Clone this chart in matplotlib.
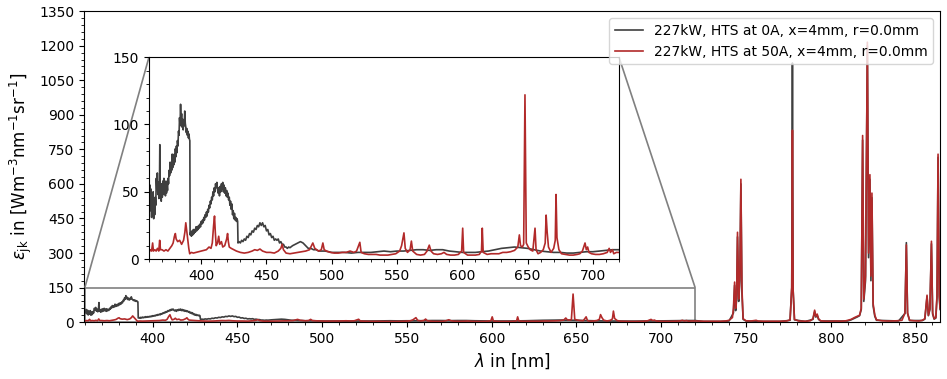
import matplotlib
matplotlib.use('Agg')
import matplotlib.pyplot as plt
from matplotlib.ticker import MultipleLocator
from mpl_toolkits.axes_grid1.inset_locator import mark_inset

# spectrum: 227kW, HTS at 0A
gray_wl = [360.0, 360.4, 360.8, 361.2, 361.6, 362.0, 362.4, 362.8, 363.2, 363.6,
           364.0, 364.4, 364.8, 365.2, 365.6, 366.0, 366.4, 366.8, 367.2, 367.6,
           368.0, 368.3, 368.6, 369.0, 369.4, 369.8, 370.2, 370.6, 371.0, 371.4,
           371.8, 372.2, 372.6, 373.0, 373.4, 373.8, 374.2, 374.6, 375.0, 375.4,
           375.8, 376.2, 376.6, 377.0, 377.4, 377.8, 378.2, 378.6, 379.0, 379.4,
           379.8, 380.2, 380.6, 381.0, 381.4, 381.8, 382.2, 382.6, 383.0, 383.4,
           383.8, 384.2, 384.6, 385.0, 385.4, 385.8, 386.2, 386.6, 387.0, 387.4,
           387.8, 388.2, 388.6, 389.0, 389.4, 389.8, 390.2, 390.6, 391.0, 391.3,
           391.5, 392.0, 392.5, 393.0, 393.5, 394.0, 394.5, 395.0, 395.5, 396.0,
           396.5, 397.0, 397.5, 398.0, 398.5, 399.0, 399.5, 400.0, 400.5, 401.0,
           401.5, 402.0, 402.5, 403.0, 403.5, 404.0, 404.5, 405.0, 405.5, 406.0,
           406.5, 407.0, 407.5, 408.0, 408.5, 409.0, 409.5, 410.0, 410.5, 411.0,
           411.5, 412.0, 412.5, 413.0, 413.5, 414.0, 414.5, 415.0, 415.5, 416.0,
           416.5, 417.0, 417.5, 418.0, 418.5, 419.0, 419.5, 420.0, 420.5, 421.0,
           421.5, 422.0, 422.5, 423.0, 423.5, 424.0, 424.5, 425.0, 425.5, 426.0,
           426.5, 427.0, 427.5, 427.9, 428.2, 429, 430, 431, 432, 433,
           434, 435, 436, 437, 438, 439, 440, 441, 442, 443,
           444, 445, 446, 447, 448, 449, 450, 451, 452, 453,
           454, 455, 456, 457, 458, 459, 460, 461, 462, 463,
           464, 465, 466, 467, 468, 470, 472, 474, 476, 478,
           480, 482, 484, 486, 488, 490, 495, 500, 505, 510,
           515, 520, 525, 530, 535, 540, 545, 550, 555, 560,
           565, 570, 575, 580, 585, 590, 595, 600, 605, 610,
           615, 620, 625, 630, 635, 640, 645, 650, 655, 660,
           665, 670, 675, 680, 685, 690, 695, 700, 705, 710,
           715, 720, 725, 735, 740, 742.6, 743.3, 743.9, 744.5, 745.0,
           745.7, 746.4, 747.0, 747.6, 748.3, 750, 760, 770, 776, 777.0,
           777.4, 777.8, 778.6, 785, 789.5, 790.5, 791.2, 792, 792.8, 794,
           810, 812, 815.5, 817, 818, 818.8, 819.5, 820.5, 821.6, 822.3,
           823.1, 823.7, 824.3, 825, 826, 827, 840, 843.8, 844.6, 845.3,
           846.5, 854, 855.5, 856.8, 857.6, 858.5, 859.4, 860.1, 861, 862,
           862.7, 863.3, 864, 864.5]
gray_val = [48, 40, 55, 36, 52, 31, 47, 35, 50, 30,
            44, 33, 46, 40, 60, 52, 64, 48, 57, 45,
            50, 85, 47, 52, 43, 56, 46, 58, 48, 60,
            50, 57, 47, 58, 49, 55, 51, 60, 56, 66,
            62, 72, 64, 70, 66, 78, 68, 76, 70, 78,
            72, 82, 76, 84, 79, 88, 84, 95, 92, 105,
            99, 115, 102, 108, 98, 104, 96, 103, 99, 110,
            101, 98, 94, 97, 92, 95, 90, 93, 89, 88,
            18, 20, 17, 21, 18, 22, 19, 22, 20, 24,
            21, 24, 22, 25, 23, 26, 24, 28, 26, 29,
            27, 31, 29, 33, 31, 35, 32, 37, 35, 40,
            38, 43, 41, 46, 44, 50, 47, 53, 50, 56,
            53, 57, 52, 49, 53, 47, 54, 50, 56, 52,
            57, 50, 55, 49, 53, 47, 51, 46, 49, 44,
            46, 40, 43, 37, 41, 33, 36, 30, 34, 29,
            31, 28, 30, 28, 12, 13, 12, 14, 13, 15,
            14, 17, 16, 19, 18, 21, 20, 23, 22, 25,
            24, 27, 25, 27, 24, 25, 21, 22, 18, 19,
            16, 17, 14, 15, 14, 15, 12, 13, 11, 11,
            9, 9, 8, 9, 8.5, 10, 11, 12, 13, 12,
            10, 8, 8, 7, 7, 6, 6, 5, 5, 5,
            4.5, 5, 5, 5, 5.5, 6, 5.5, 6, 6, 6.5,
            7, 7, 6.5, 7, 7, 6, 5.5, 5, 5, 5,
            5.5, 6, 7, 8, 8.5, 9, 8.5, 8, 7, 6,
            5.5, 5, 5, 4.5, 4.5, 5, 5.5, 5.5, 6, 6.5,
            7, 7, 3, 3, 5, 40, 160, 50, 100, 370,
            90, 180, 600, 130, 12, 5, 3, 3, 8, 150,
            1125, 140, 10, 3, 12, 45, 22, 30, 12, 5,
            5, 10, 22, 28, 55, 790, 90, 180, 1200, 280,
            620, 180, 540, 70, 25, 8, 5, 38, 345, 38,
            7, 7, 13, 110, 28, 55, 340, 35, 13, 18,
            110, 715, 110, 55]

# spectrum: 227kW, HTS at 50A
red_wl = [360, 361, 362, 362.8, 363.4, 364.5, 365.5, 366.5, 367.5, 368.2,
          368.8, 370, 371.5, 373, 374.5, 376, 377.5, 378.5, 379.5, 380.2,
          380.8, 382, 383.5, 385, 386.5, 387.5, 388.2, 388.8, 389.8, 390.5,
          391.2, 392.5, 394, 396, 398, 400, 402, 404, 406, 407.5,
          408.5, 409.5, 410.2, 410.8, 411.5, 412.5, 413.4, 414.2, 415.5, 416.5,
          418, 419.5, 420.2, 420.8, 421.5, 423, 425, 427, 430, 433,
          436, 439, 441, 443, 445, 447, 450, 453, 456, 459,
          461, 462, 463, 465, 468, 471, 474, 477, 480, 483,
          485.5, 487, 490, 492, 493.2, 494.2, 496, 499, 502, 505,
          508, 511, 514, 517, 519, 521.5, 522.5, 525, 528, 531,
          534, 537, 540, 543, 546, 549, 552, 553.5, 555.3, 556.3,
          558, 560, 561, 562, 565, 568, 571, 573, 574.7, 576,
          578, 581, 584, 586, 588, 591, 594, 597, 599.5, 600.3,
          601, 604, 607, 610, 613, 614.7, 615.3, 616, 619, 622,
          625, 628, 631, 634, 637, 640, 642.5, 643.7, 644.6, 646,
          647, 648, 649, 650.5, 652, 654, 655.7, 656.5, 658, 660,
          662, 663.5, 664.2, 665, 666, 668, 670, 671.2, 671.8, 672.5,
          674, 676, 679, 682, 685, 688, 690, 692, 693, 694,
          695, 696, 697, 699, 702, 705, 708, 711, 712.5, 713.5,
          715, 716, 718, 720, 725, 730, 735, 738, 740, 742.0,
          742.6, 743.3, 743.9, 744.5, 745.0, 745.7, 746.4, 747.0, 747.6, 748.3,
          750, 753, 756, 757, 760, 765, 770, 774, 776, 777.0,
          777.4, 777.8, 778.6, 781, 785, 788, 789.5, 790.5, 791.2, 792,
          792.8, 794, 797, 800, 803, 806, 809, 812, 814, 815.5,
          817, 818, 818.8, 819.5, 820.5, 821.6, 822.3, 823.1, 823.7, 824.3,
          825, 826, 827, 830, 833, 836, 839, 842, 843.8, 844.6,
          845.3, 846.5, 849, 852, 854, 855.5, 856.8, 857.6, 858.5, 859.4,
          860.1, 861, 862, 862.7, 863.3, 864, 864.5]
red_val = [5, 7, 6, 12, 6, 7, 6, 8, 6, 14,
           7, 7, 6, 7, 6, 8, 10, 12, 17, 19,
           15, 13, 14, 11, 14, 20, 27, 22, 14, 8,
           4, 5, 4.5, 5, 5.5, 6, 6.5, 7, 9, 8,
           12, 25, 32, 20, 10, 12, 17, 11, 13, 9,
           10, 15, 19, 13, 9, 8, 7, 6, 5, 4.5,
           5, 6, 7, 6.5, 7.5, 6, 5, 5, 4.5, 6,
           8, 11, 7, 4.5, 4, 4.5, 5, 5.5, 6, 7,
           12, 8, 6, 7, 12, 7, 6, 5, 4.5, 4.5,
           5, 5, 6, 5, 6, 12.5, 5, 4, 3.5, 3.5,
           3.5, 3, 3, 3, 3.5, 4, 6, 10, 19.5, 8,
           5, 7, 13.4, 6, 3.5, 3, 3.5, 6, 10.4, 6,
           4, 3.5, 4, 5, 3.5, 3, 3, 3.5, 6, 23,
           5, 3, 3, 3, 3.5, 6, 23, 5, 3.5, 4,
           4, 4, 5, 5, 5.5, 6.5, 9, 18, 10, 9,
           11, 122, 12, 9, 7, 6, 23, 7, 4, 5,
           7, 12, 32.7, 20, 9, 5, 8, 14, 48, 16,
           7, 4, 3.5, 3, 3, 3.5, 4, 6, 9, 12,
           7, 9, 5, 4, 3.5, 3.5, 4, 5, 8, 5,
           7, 4, 5, 5, 4, 4, 4, 5, 8, 20,
           60, 174, 60, 120, 390, 100, 200, 620, 150, 15,
           6, 5, 8, 5, 4, 4, 4, 5, 10, 150,
           833, 140, 12, 5, 4, 6, 15, 52, 25, 35,
           15, 6, 4, 4, 5, 4, 6, 12, 20, 25,
           30, 60, 810, 100, 200, 1215, 300, 640, 200, 560,
           80, 30, 10, 6, 5, 5, 6, 8, 40, 335,
           40, 8, 6, 5, 8, 15, 117, 30, 60, 351,
           40, 15, 20, 120, 729, 120, 60]

labels = ['227kW, HTS at 0A, x=4mm, r=0.0mm', '227kW, HTS at 50A, x=4mm, r=0.0mm']


def plot_spectra():
    fig = plt.figure(figsize=(9.47, 3.79), dpi=100)
    ax = fig.add_axes([0.0887, 0.150, 0.904, 0.8206])

    ax.plot(gray_wl, gray_val, color='#3f3f3f', lw=1.2, label=labels[0])
    ax.plot(red_wl, red_val, color='#b22a2a', lw=1.2, label=labels[1])
    ax.set_xlim(359.5, 864.5)
    ax.set_ylim(0, 1350)
    ax.yaxis.set_major_locator(MultipleLocator(150))
    ax.yaxis.set_minor_locator(MultipleLocator(30))
    ax.xaxis.set_major_locator(MultipleLocator(50))
    ax.xaxis.set_minor_locator(MultipleLocator(10))
    ax.tick_params(labelsize=10)
    ax.set_xlabel(r'$\lambda$ in [nm]', fontsize=12)
    ax.set_ylabel(r'$\varepsilon_{\mathrm{jk}}$ in [Wm$^{-3}$nm$^{-1}$sr$^{-1}$]', fontsize=12)

    # zoom on the blue/visible part
    axins = ax.inset_axes([0.0759, 0.2026, 0.549, 0.6495])
    axins.plot(gray_wl, gray_val, color='#3f3f3f', lw=1.2)
    axins.plot(red_wl, red_val, color='#b22a2a', lw=1.2)
    axins.set_xlim(360, 720)
    axins.set_ylim(0, 150)
    axins.xaxis.set_major_locator(MultipleLocator(50))
    axins.xaxis.set_minor_locator(MultipleLocator(10))
    axins.yaxis.set_major_locator(MultipleLocator(50))
    axins.yaxis.set_minor_locator(MultipleLocator(10))
    axins.tick_params(labelsize=10)
    mark_inset(ax, axins, loc1=1, loc2=2, fc='none', ec='0.5', lw=1.2)

    leg = ax.legend(loc='upper right', fontsize=10, framealpha=0.8)
    leg.set_zorder(10)

    fig.savefig('out.png', dpi=100)


if __name__ == '__main__':
    plot_spectra()
